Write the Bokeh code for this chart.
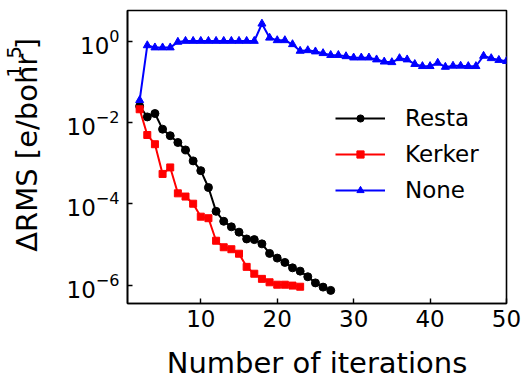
import math
from bokeh.plotting import figure
from bokeh.models import Range1d, FixedTicker, Legend, LegendItem
from bokeh.layouts import column, row
from bokeh.core.properties import value
from bokeh.embed import file_html
from bokeh.resources import INLINE

# ---- data ----
resta_x = list(range(2, 28))
resta_y = [0.025, 0.0136, 0.0165, 6.8e-3, 4.7e-3, 3.2e-3, 2.1e-3, 1.13e-3, 6.5e-4,
           2.5e-4, 6.5e-5, 3.7e-5, 2.7e-5, 2.0e-5, 1.36e-5, 1.31e-5, 1.03e-5, 6.0e-6,
           4.6e-6, 3.6e-6, 2.65e-6, 2.2e-6, 1.6e-6, 1.13e-6, 8.9e-7, 7.4e-7]

kerker_x = list(range(2, 24))
kerker_y = [0.021, 4.9e-3, 2.9e-3, 5.4e-4, 7.8e-4, 1.8e-4, 1.5e-4, 1.0e-4, 4.8e-5,
            4.4e-5, 1.23e-5, 8.5e-6, 7.6e-6, 5.9e-6, 2.8e-6, 1.9e-6, 1.42e-6, 1.17e-6,
            1.02e-6, 1.02e-6, 9.7e-7, 9.1e-7]

none_x = list(range(2, 51))
none_y = [0.035, 0.78, 0.69, 0.69, 0.69, 0.95,
          1.0, 1.0, 1.0, 1.0, 1.0, 1.0, 1.0, 1.0, 1.0, 1.0,
          2.66, 1.2, 1.04, 1.04, 0.83, 0.57, 0.59, 0.55, 0.5, 0.45, 0.45, 0.42,
          0.39, 0.39, 0.39, 0.35, 0.31, 0.30, 0.376, 0.35, 0.27, 0.24, 0.24, 0.29,
          0.23, 0.245, 0.245, 0.24, 0.24, 0.43, 0.376, 0.34, 0.32]

x_ticks = [10, 20, 30, 40, 50]
y_ticks = [1e-6, 1e-4, 1e-2, 1e0]
series_labels = ["Resta", "Kerker", "None"]
x_label = "Number of iterations"
y_label_main = "ΔRMS [e/bohr"
y_label_sup = "1.5"
y_label_end = "]"

FONT = "DejaVu Sans"


def blank(w, h):
    f = figure(width=w, height=h, x_range=Range1d(0, w), y_range=Range1d(0, h),
               output_backend="svg", toolbar_location=None, min_border=0,
               x_axis_location=None, y_axis_location=None)
    f.grid.visible = False
    f.outline_line_color = None
    return f


# ---- main plot ----
p = figure(width=461, height=340, y_axis_type="log",
           x_range=Range1d(0.41, 50), y_range=Range1d(3.52e-7, 5.63),
           output_backend="svg", toolbar_location=None,
           min_border_left=67, min_border_right=15, min_border_top=10,
           min_border_bottom=37)

p.grid.visible = False
p.outline_line_color = "black"
p.outline_line_width = 1.6
p.background_fill_color = "white"

for ax in (p.xaxis[0], p.yaxis[0]):
    ax.axis_line_width = 1.6
    ax.major_tick_in = 5
    ax.major_tick_out = 0
    ax.major_tick_line_width = 1.4
    ax.minor_tick_line_color = None
    ax.major_label_text_font = FONT
    ax.major_label_text_font_size = "23px"
    ax.major_label_text_color = "black"

p.xaxis.ticker = FixedTicker(ticks=x_ticks)
p.yaxis.ticker = FixedTicker(ticks=y_ticks)
p.xaxis.major_label_standoff = 6
p.yaxis.major_label_standoff = 8

r1l = p.line(resta_x, resta_y, line_color="black", line_width=2)
r1m = p.scatter(resta_x, resta_y, marker="circle", size=8, color="black")
r2l = p.line(kerker_x, kerker_y, line_color="red", line_width=2)
r2m = p.scatter(kerker_x, kerker_y, marker="square", size=7, color="red")
r3l = p.line(none_x, none_y, line_color="blue", line_width=2)
r3m = p.scatter(none_x, none_y, marker="triangle", size=8, color="blue")

legend = Legend(items=[LegendItem(label=series_labels[0], renderers=[r1l, r1m]),
                       LegendItem(label=series_labels[1], renderers=[r2l, r2m]),
                       LegendItem(label=series_labels[2], renderers=[r3l, r3m])],
                location=(208, 100), orientation="vertical")
legend.label_text_font = FONT
legend.label_text_font_size = "23px"
legend.label_text_color = "black"
legend.glyph_width = 50
legend.glyph_height = 18
legend.label_height = 18
legend.label_standoff = 20
legend.spacing = 10
legend.padding = 0
legend.margin = 0
legend.border_line_alpha = 0
legend.background_fill_alpha = 0
p.add_layout(legend)

# ---- y-axis title panel (rotated text with real superscript) ----
L = blank(60, 340)
L.text(x=[26], y=[60], text=[y_label_main], angle=math.pi / 2,
       text_font=value(FONT), text_font_size=value("29px"),
       text_align="left", text_baseline="middle", text_color="black")
L.text(x=[13], y=[262], text=[y_label_sup], angle=math.pi / 2,
       text_font=value(FONT), text_font_size=value("20px"),
       text_align="left", text_baseline="middle", text_color="black")
L.text(x=[26], y=[295], text=[y_label_end], angle=math.pi / 2,
       text_font=value(FONT), text_font_size=value("29px"),
       text_align="left", text_baseline="middle", text_color="black")

# ---- x-axis title panel ----
B = blank(521, 39)
B.text(x=[316.5], y=[17], text=[x_label],
       text_font=value(FONT), text_font_size=value("29px"),
       text_align="center", text_baseline="middle", text_color="black")

layout = column(row(L, p, spacing=0), B, spacing=0)
open("out.html", "w").write(file_html(layout, INLINE))
